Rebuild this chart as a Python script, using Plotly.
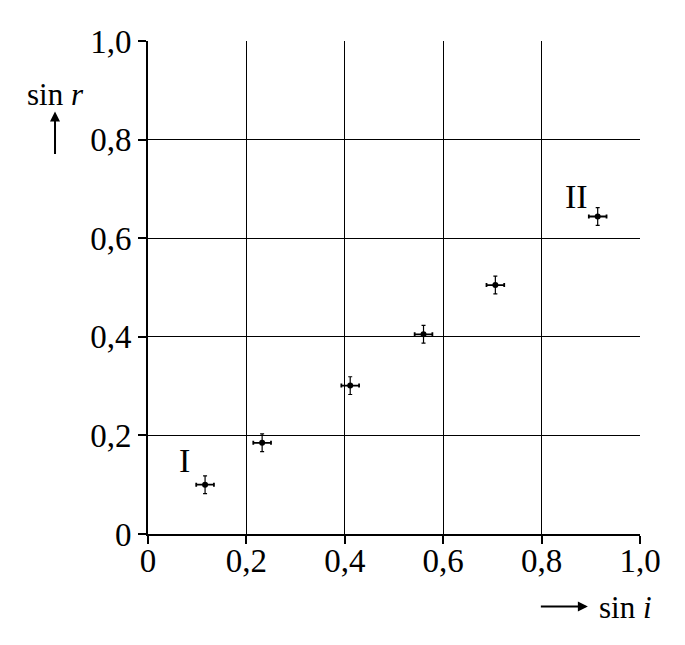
import plotly.graph_objects as go

# measured points (sin i, sin r) with their uncertainties
sin_i = [0.116, 0.232, 0.411, 0.560, 0.706, 0.914]
sin_r = [0.100, 0.185, 0.301, 0.405, 0.505, 0.644]
err_i = [0.018, 0.018, 0.018, 0.018, 0.018, 0.018]
err_r = [0.018, 0.018, 0.018, 0.018, 0.018, 0.018]

tick_vals = [0, 0.2, 0.4, 0.6, 0.8, 1.0]
tick_text = ["0", "0,2", "0,4", "0,6", "0,8", "1,0"]

# labels for first and last measurement
point_labels = ["I", "II"]
label_x = [0.075, 0.870]
label_y = [0.150, 0.684]

FONT = "Liberation Serif"

fig = go.Figure()
fig.add_trace(go.Scatter(
    x=sin_i, y=sin_r, mode="markers",
    marker=dict(color="black", size=6),
    error_x=dict(type="data", array=err_i, color="black", thickness=1.8, width=2),
    error_y=dict(type="data", array=err_r, color="black", thickness=1.2, width=2),
    showlegend=False,
))

for txt, lx, ly in zip(point_labels, label_x, label_y):
    fig.add_annotation(x=lx, y=ly, text=txt, showarrow=False,
                       xanchor="center", yanchor="middle",
                       font=dict(family=FONT, size=34, color="black"))

# axis titles with arrows
fig.add_annotation(xref="paper", yref="paper", x=-0.189, y=0.892, text="sin <i>r</i>",
                   xanchor="center", yanchor="middle", showarrow=False,
                   font=dict(family=FONT, size=31, color="black"))
fig.add_annotation(xref="paper", yref="paper", x=-0.189, y=0.857, text=" ",
                   showarrow=True, axref="pixel", ayref="pixel", ax=0, ay=51,
                   arrowhead=2, arrowsize=1, arrowwidth=2, arrowcolor="black")
fig.add_annotation(xref="paper", yref="paper", x=0.894, y=-0.147, text=" ",
                   showarrow=True, axref="pixel", ayref="pixel", ax=-50, ay=0,
                   arrowhead=2, arrowsize=1, arrowwidth=2, arrowcolor="black")
fig.add_annotation(xref="paper", yref="paper", x=0.913, y=-0.149, text="sin <i>i</i>",
                   xanchor="left", yanchor="middle", showarrow=False,
                   font=dict(family=FONT, size=31, color="black"))

axis_style = dict(
    range=[0, 1], tickvals=tick_vals, ticktext=tick_text,
    showgrid=True, gridcolor="black", gridwidth=1,
    showline=True, linecolor="black", linewidth=2,
    ticks="outside", ticklen=8, tickwidth=2, tickcolor="black",
    zeroline=False,
    tickfont=dict(family=FONT, size=33, color="black"),
)

fig.update_xaxes(**axis_style, ticklabelstandoff=-12)
fig.update_yaxes(**axis_style)

# page body has an 8px margin, so the figure is shrunk to fit the window
fig.update_layout(
    width=677, height=637,
    margin=dict(l=140, r=45, t=33, b=111),
    plot_bgcolor="white", paper_bgcolor="white",
    font=dict(family=FONT, color="black"),
)

fig.write_html("out.html")
